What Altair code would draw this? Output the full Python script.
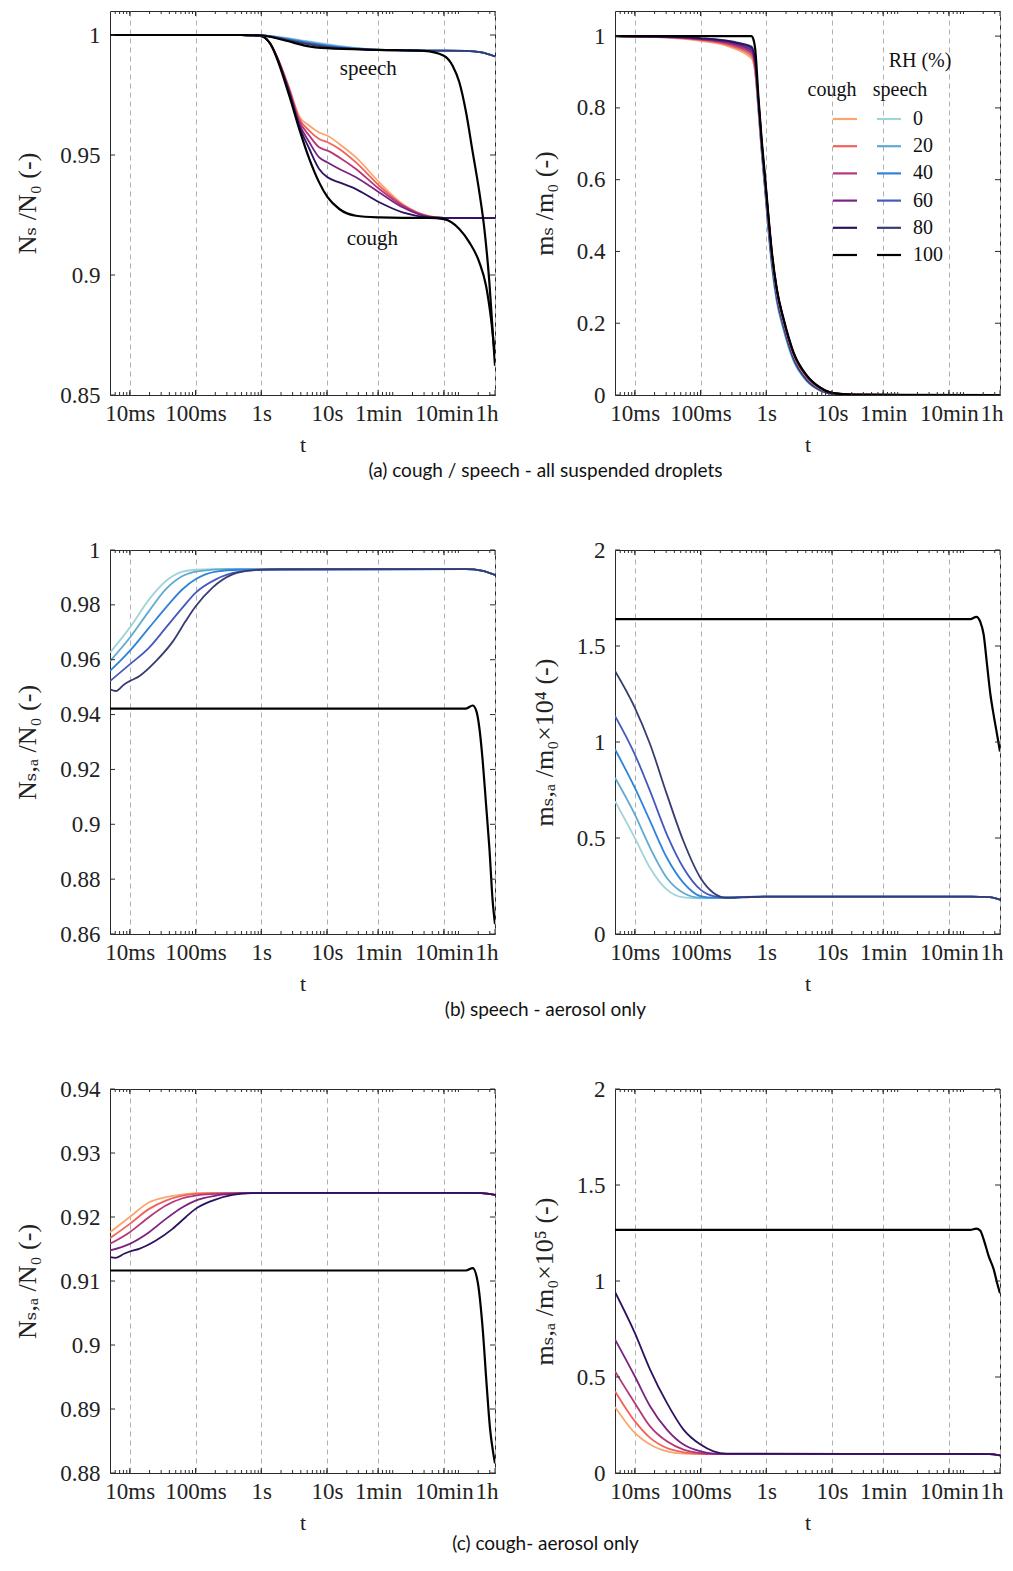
import altair as alt
import pandas as pd

# ---------------- styling constants ----------------
W, H = 385, 384
SERIF = "Liberation Serif, DejaVu Serif, serif"
SANS = "Lato, Roboto, Liberation Sans, sans-serif"
TICK_COLOR = "#2b2b2b"

# ---------------- categories / colours ----------------
RH = ["0", "20", "40", "60", "80", "100"]
COUGH_COLORS = ["#fba66f", "#f2625b", "#b5377a", "#7a2382", "#2c1260", "#000000"]
SPEECH_COLORS = ["#a2d3d8", "#5eaad2", "#2f83d8", "#4659bd", "#373d70", "#000000"]

T_MIN, T_MAX = 0.005, 3600
MAJOR_T = [0.01, 0.1, 1, 10, 60, 600, 3600]
MAJOR_LABELS = ["10ms", "100ms", "1s", "10s", "1min", "10min", "1h"]
MINOR_T = [m * d for d in [0.001, 0.01, 0.1, 1, 10, 100, 1000] for m in range(1, 10)
           if T_MIN < m * d < T_MAX]

CAPTIONS = ["(a) cough / speech - all suspended droplets",
            "(b)  speech - aerosol only",
            "(c)  cough- aerosol only"]

# ---------------- (a) left : N_s / N_0 ----------------
A_N_T_COUGH = [0.005, 0.5, 1.0, 1.32, 2.67, 3.79, 5.4, 7.6, 10.2, 15.4, 27.6, 62.5, 141, 361, 600, 3600]
A_N_COUGH = {
    "0":  [1.0, 1.0, 0.9995, 0.997, 0.978, 0.9661, 0.9622, 0.9594, 0.958, 0.9546, 0.949, 0.9386, 0.9296, 0.9245, 0.9238, 0.9237],
    "20": [1.0, 1.0, 0.9995, 0.997, 0.9775, 0.9652, 0.9601, 0.9567, 0.9553, 0.9525, 0.9469, 0.9372, 0.9293, 0.9244, 0.9238, 0.9237],
    "40": [1.0, 1.0, 0.9995, 0.997, 0.977, 0.9642, 0.958, 0.9532, 0.9518, 0.949, 0.9442, 0.9358, 0.9289, 0.9243, 0.9238, 0.9237],
    "60": [1.0, 1.0, 0.9995, 0.997, 0.9765, 0.963, 0.9553, 0.949, 0.9469, 0.9442, 0.9407, 0.9344, 0.9282, 0.9242, 0.9238, 0.9237],
    "80": [1.0, 1.0, 0.9995, 0.997, 0.976, 0.962, 0.9525, 0.9442, 0.9407, 0.9386, 0.9358, 0.9303, 0.9261, 0.924, 0.9238, 0.9237],
}
A_N_T_COUGH100 = [0.005, 0.5, 1.0, 1.32, 2.67, 3.79, 5.4, 7.6, 10.2, 15.4, 27.6, 62.5, 141, 361, 600,
                  1032, 1466, 2080, 2630, 3133, 3600]
A_N_COUGH100 = [1.0, 1.0, 0.9995, 0.997, 0.9747, 0.9608, 0.9483, 0.9386, 0.9324, 0.9275, 0.9247, 0.924,
                0.9238, 0.9238, 0.9233, 0.9192, 0.9136, 0.9053, 0.8955, 0.8817, 0.866]
A_N_T_SPEECH = [0.005, 0.5, 1.0, 2.4, 4.8, 10, 30, 60, 300, 1300, 2250, 3600]
A_N_SPEECH = {
    "0":  [1.0, 1.0, 0.9998, 0.9988, 0.9975, 0.9962, 0.9945, 0.9939, 0.9935, 0.9934, 0.9928, 0.9911],
    "20": [1.0, 1.0, 0.9998, 0.9986, 0.9972, 0.9959, 0.9944, 0.9939, 0.9935, 0.9934, 0.9928, 0.9911],
    "40": [1.0, 1.0, 0.9998, 0.9984, 0.9969, 0.9956, 0.9943, 0.9938, 0.9935, 0.9934, 0.9928, 0.9911],
    "60": [1.0, 1.0, 0.9998, 0.9982, 0.9966, 0.9953, 0.9942, 0.9938, 0.9935, 0.9934, 0.9928, 0.9911],
    "80": [1.0, 1.0, 0.9998, 0.998, 0.9963, 0.995, 0.9941, 0.9937, 0.9935, 0.9934, 0.9928, 0.9911],
}
A_N_T_SPEECH100 = [0.005, 0.5, 1.0, 2.4, 4.8, 10, 60, 300, 600, 815, 1032, 1306, 1650, 2080, 2480, 2954, 3300, 3600]
A_N_SPEECH100 = [1.0, 1.0, 0.9998, 0.9976, 0.9955, 0.9945, 0.9938, 0.9934, 0.9914, 0.9872, 0.9803, 0.9678,
                 0.9511, 0.9345, 0.9192, 0.897, 0.8775, 0.8622]
A_ANN_LABELS = ["speech", "cough"]
A_ANN_T = [42.5, 49]
A_ANN_V = [0.986, 0.915]

# ---------------- (a) right : m_s / m_0 ----------------
A_M_T = [0.005, 0.03, 0.1, 0.3, 0.6, 0.68, 0.764, 0.859, 0.966, 1.08, 1.22, 1.45, 1.84, 2.6, 4.16, 6.6, 10.6, 21, 3600]
A_M_COUGH = {
    "0":  [1.0, 0.996, 0.987, 0.968, 0.937, 0.90, 0.80, 0.685, 0.585, 0.485, 0.385, 0.285, 0.203, 0.112, 0.049, 0.018, 0.004, 0.001, 0.0],
    "20": [1.0, 0.997, 0.989, 0.972, 0.945, 0.905, 0.805, 0.69, 0.59, 0.49, 0.39, 0.29, 0.206, 0.114, 0.05, 0.019, 0.004, 0.001, 0.0],
    "40": [1.0, 0.997, 0.991, 0.976, 0.953, 0.915, 0.81, 0.695, 0.593, 0.492, 0.392, 0.291, 0.207, 0.115, 0.051, 0.019, 0.004, 0.001, 0.0],
    "60": [1.0, 0.998, 0.992, 0.980, 0.960, 0.92, 0.815, 0.698, 0.596, 0.495, 0.394, 0.293, 0.209, 0.116, 0.052, 0.02, 0.005, 0.001, 0.0],
    "80": [1.0, 0.998, 0.994, 0.984, 0.968, 0.93, 0.82, 0.70, 0.598, 0.497, 0.395, 0.294, 0.21, 0.117, 0.053, 0.02, 0.005, 0.001, 0.0],
}
A_M_SPEECH = {
    "0":  [1.0, 0.996, 0.988, 0.970, 0.941, 0.895, 0.785, 0.665, 0.56, 0.455, 0.355, 0.258, 0.18, 0.095, 0.038, 0.012, 0.003, 0.0005, 0.0],
    "20": [1.0, 0.997, 0.990, 0.974, 0.949, 0.90, 0.79, 0.67, 0.565, 0.46, 0.36, 0.262, 0.183, 0.097, 0.039, 0.013, 0.003, 0.0005, 0.0],
    "40": [1.0, 0.997, 0.991, 0.978, 0.956, 0.91, 0.795, 0.675, 0.57, 0.465, 0.365, 0.266, 0.186, 0.099, 0.04, 0.013, 0.003, 0.0005, 0.0],
    "60": [1.0, 0.998, 0.993, 0.981, 0.963, 0.915, 0.80, 0.68, 0.575, 0.47, 0.37, 0.27, 0.19, 0.101, 0.041, 0.014, 0.003, 0.0005, 0.0],
    "80": [1.0, 0.998, 0.994, 0.985, 0.971, 0.925, 0.81, 0.685, 0.58, 0.475, 0.375, 0.274, 0.193, 0.103, 0.042, 0.014, 0.003, 0.0005, 0.0],
}
A_M_T100 = [0.005, 0.03, 0.1, 0.3, 0.6, 0.627, 0.68, 0.764, 0.859, 0.966, 1.08, 1.22, 1.45, 1.84, 2.6, 4.16, 6.6, 10.6, 21, 3600]
A_M_100 = [1.0, 1.0, 1.0, 1.0, 1.0, 0.995, 0.963, 0.824, 0.703, 0.601, 0.499, 0.397, 0.295, 0.2115, 0.119, 0.054, 0.021, 0.005, 0.001, 0.0]

# ---------------- (b) left : speech N_s,a / N_0 ----------------
B_N_SPEECH = {
    "0":  ([0.005, 0.01, 0.0197, 0.0354, 0.0634, 0.1, 0.2, 1300, 2250, 3600],
           [0.9626, 0.9717, 0.982, 0.9887, 0.9921, 0.9928, 0.993, 0.993, 0.9925, 0.9909]),
    "20": ([0.005, 0.01, 0.0197, 0.0354, 0.0634, 0.114, 0.3, 1300, 2250, 3600],
           [0.9595, 0.968, 0.9778, 0.9857, 0.9905, 0.9923, 0.993, 0.993, 0.9925, 0.9909]),
    "40": ([0.005, 0.01, 0.0197, 0.0354, 0.0634, 0.1, 0.204, 0.462, 1300, 2250, 3600],
           [0.9559, 0.9632, 0.9717, 0.979, 0.9857, 0.9893, 0.9921, 0.9928, 0.993, 0.9925, 0.9909]),
    "60": ([0.005, 0.01, 0.0197, 0.0354, 0.0634, 0.1, 0.204, 0.462, 1.0, 1300, 2250, 3600],
           [0.9522, 0.9583, 0.9644, 0.9717, 0.979, 0.9844, 0.9893, 0.9921, 0.9928, 0.993, 0.9925, 0.9909]),
    "80": ([0.005, 0.00614, 0.0082, 0.01, 0.0139, 0.025, 0.0447, 0.0713, 0.1, 0.1816, 0.366, 0.738, 2.1, 1300, 2250, 3600],
           [0.9492, 0.9486, 0.951, 0.9522, 0.954, 0.9595, 0.9665, 0.9742, 0.9794, 0.9863, 0.9911, 0.9926, 0.993, 0.993, 0.9925, 0.9909]),
    "100": ([0.005, 1300, 1650, 1860, 2080, 2340, 2630, 2954, 3318, 3600],
            [0.9422, 0.9422, 0.9433, 0.9415, 0.9352, 0.9231, 0.9073, 0.8915, 0.872, 0.8636]),
}

# ---------------- (b) right : speech m_s,a / m_0 x 1e4 ----------------
B_M_T = [0.005, 0.01, 0.0171, 0.0308, 0.0551, 0.1, 0.158, 0.252, 0.452, 1.0, 1300, 2500, 3600]
B_M_SPEECH = {
    "0":  [0.692, 0.501, 0.344, 0.231, 0.191, 0.186, 0.188, 0.19, 0.192, 0.195, 0.195, 0.192, 0.179],
    "20": [0.814, 0.623, 0.449, 0.292, 0.214, 0.189, 0.188, 0.19, 0.192, 0.195, 0.195, 0.192, 0.179],
    "40": [0.962, 0.762, 0.588, 0.397, 0.266, 0.197, 0.189, 0.19, 0.193, 0.195, 0.195, 0.192, 0.179],
    "60": [1.136, 0.936, 0.744, 0.518, 0.344, 0.231, 0.197, 0.189, 0.193, 0.195, 0.195, 0.192, 0.179],
    "80": [1.37, 1.179, 0.988, 0.727, 0.483, 0.292, 0.214, 0.188, 0.191, 0.195, 0.195, 0.192, 0.179],
}
B_M_T100 = [0.005, 1274, 1571, 1808, 2030, 2290, 2567, 2884, 3245, 3600]
B_M_100 = [1.64, 1.64, 1.652, 1.625, 1.56, 1.40, 1.25, 1.14, 1.04, 0.95]

# ---------------- (c) left : cough N_s,a / N_0 ----------------
C_N_COUGH = {
    "0":  ([0.005, 0.01, 0.0197, 0.0354, 0.0634, 0.1, 0.2, 1300, 2250, 3600],
           [0.91763, 0.92, 0.92231, 0.9231, 0.92351, 0.92371, 0.92377, 0.92377, 0.92372, 0.92345]),
    "20": ([0.005, 0.01, 0.0197, 0.0354, 0.0634, 0.1, 0.204, 1300, 2250, 3600],
           [0.91669, 0.91893, 0.92127, 0.92257, 0.92335, 0.9236, 0.92372, 0.92377, 0.92372, 0.92345]),
    "40": ([0.005, 0.01, 0.0197, 0.0354, 0.0634, 0.1, 0.204, 0.462, 1300, 2250, 3600],
           [0.91581, 0.91763, 0.92, 0.92179, 0.92293, 0.92335, 0.9236, 0.92372, 0.92377, 0.92372, 0.92345]),
    "60": ([0.005, 0.01, 0.0197, 0.0354, 0.0634, 0.1, 0.204, 0.462, 1.0, 1300, 2250, 3600],
           [0.91477, 0.91581, 0.91763, 0.91971, 0.92153, 0.92257, 0.92335, 0.92367, 0.92377, 0.92377, 0.92372, 0.92345]),
    "80": ([0.005, 0.00614, 0.0082, 0.01, 0.0139, 0.025, 0.0447, 0.0713, 0.1, 0.1816, 0.366, 0.738, 2.1, 1300, 2250, 3600],
           [0.91373, 0.91362, 0.91425, 0.91461, 0.91503, 0.91633, 0.91815, 0.92, 0.92127, 0.92257, 0.92345, 0.92372, 0.92377, 0.92377, 0.92372, 0.92345]),
    "100": ([0.005, 1300, 1650, 1967, 2340, 2690, 3027, 3400, 3600],
            [0.91164, 0.91164, 0.9120, 0.9098, 0.9025, 0.8937, 0.8869, 0.8830, 0.8815]),
}

# ---------------- (c) right : cough m_s,a / m_0 x 1e5 ----------------
C_M_T = [0.005, 0.01, 0.0171, 0.0308, 0.0551, 0.1, 0.158, 0.252, 1300, 2500, 3600]
C_M_COUGH = {
    "0":  [0.344, 0.209, 0.148, 0.113, 0.101, 0.099, 0.099, 0.099, 0.099, 0.098, 0.092],
    "20": [0.426, 0.27, 0.183, 0.13, 0.108, 0.1, 0.099, 0.099, 0.099, 0.098, 0.092],
    "40": [0.53, 0.365, 0.243, 0.165, 0.122, 0.104, 0.1, 0.099, 0.099, 0.098, 0.092],
    "60": [0.696, 0.504, 0.348, 0.226, 0.148, 0.113, 0.101, 0.099, 0.099, 0.098, 0.092],
    "80": [0.943, 0.73, 0.539, 0.365, 0.226, 0.148, 0.113, 0.101, 0.099, 0.098, 0.092],
}
C_M_T100 = [0.005, 1274, 1571, 1808, 2030, 2420, 2884, 3245, 3600]
C_M_100 = [1.266, 1.266, 1.273, 1.262, 1.217, 1.13, 1.061, 0.991, 0.936]


# ---------------- helpers ----------------
def series_rows(name, times, values, color, width):
    return [{"series": name, "t": t, "v": v, "col": color, "w": width} for t, v in zip(times, values)]


def width_of(rh):
    return 2.2 if rh == "100" else 1.8


LABEL_EXPR = " : ".join(f"datum.value == {v} ? '{l}'" for v, l in zip(MAJOR_T[:-1], MAJOR_LABELS[:-1])) \
    + f" : '{MAJOR_LABELS[-1]}'"


def panel(rows, ydom, yticks, ytitle, caption=None, cap_offset=6, extra=None, overlay=None):
    df = pd.DataFrame(rows)
    xs = alt.Scale(type="log", domain=[T_MIN, T_MAX], nice=False)
    ys = alt.Scale(domain=ydom, nice=False, zero=False)
    xaxis = alt.Axis(values=MAJOR_T, labelExpr=LABEL_EXPR, title="t", grid=True, gridDash=[5, 4],
                     gridColor="#b0b0b0", gridWidth=1, ticks=False, domain=False, labelFlush=True,
                     labelFlushOffset=3, labelOverlap=False, labelPadding=7, titlePadding=9,
                     titleFontSize=22)
    yaxis = alt.Axis(values=yticks, format="~g", title=ytitle, grid=False, ticks=False, domain=False,
                     labelPadding=10, titlePadding=19, labelOverlap=False)
    X = alt.X("t:Q", scale=xs, axis=xaxis)
    Y = alt.Y("v:Q", scale=ys, axis=yaxis)
    lines = alt.Chart(df).mark_line(interpolate="monotone", clip=True).encode(
        x=X, y=Y,
        color=alt.Color("col:N", scale=None),
        strokeWidth=alt.StrokeWidth("w:Q", scale=None),
        detail="series:N",
    )
    xmaj = pd.DataFrame({"t": MAJOR_T})
    xmin = pd.DataFrame({"t": MINOR_T})
    ydf = pd.DataFrame({"v": yticks})

    def xt(d, y0, y1):
        return alt.Chart(d).mark_rule(color=TICK_COLOR, strokeWidth=1).encode(
            x=X, y=alt.value(y0), y2=alt.value(y1))

    def yt(x0, x1):
        return alt.Chart(ydf).mark_rule(color=TICK_COLOR, strokeWidth=1).encode(
            y=Y, x=alt.value(x0), x2=alt.value(x1))

    layers = [lines, xt(xmaj, H, H - 5), xt(xmaj, 0, 5), xt(xmin, H, H - 3), xt(xmin, 0, 3),
              yt(0, 5), yt(W, W - 5)]
    if extra is not None:
        layers += extra(X, Y)
    ch = alt.layer(*layers)
    if overlay is not None:
        ch = alt.layer(ch, *overlay).resolve_scale(y="independent")
    props = dict(width=W, height=H)
    if caption:
        props["title"] = alt.TitleParams(text=caption, orient="bottom", anchor="middle", frame="group",
                                         dx=243, offset=cap_offset, font=SANS, fontSize=19,
                                         fontWeight="normal", color="#111111")
    return ch.properties(**props)


# ---------------- build panels ----------------
rows_a_n = []
for i, rh in enumerate(RH[:-1]):
    rows_a_n += series_rows("c" + rh, A_N_T_COUGH, A_N_COUGH[rh], COUGH_COLORS[i], width_of(rh))
rows_a_n += series_rows("c100", A_N_T_COUGH100, A_N_COUGH100, COUGH_COLORS[5], 2.2)
for i, rh in enumerate(RH[:-1]):
    rows_a_n += series_rows("s" + rh, A_N_T_SPEECH, A_N_SPEECH[rh], SPEECH_COLORS[i], width_of(rh))
rows_a_n += series_rows("s100", A_N_T_SPEECH100, A_N_SPEECH100, SPEECH_COLORS[5], 2.2)


def ann_layer(X, Y):
    d = pd.DataFrame({"label": A_ANN_LABELS, "t": A_ANN_T, "v": A_ANN_V})
    return [alt.Chart(d).mark_text(font=SERIF, fontSize=21, color="#111111").encode(
        x=X, y=Y, text="label:N")]


pA1 = panel(rows_a_n, [0.85, 1.01], [0.85, 0.9, 0.95, 1], "Nₛ /N₀ (-)", caption=CAPTIONS[0],
            cap_offset=7, extra=ann_layer)

rows_a_m = []
for i, rh in enumerate(RH[:-1]):
    rows_a_m += series_rows("s" + rh, A_M_T, A_M_SPEECH[rh], SPEECH_COLORS[i], 1.8)
for i, rh in enumerate(RH[:-1]):
    rows_a_m += series_rows("c" + rh, A_M_T, A_M_COUGH[rh], COUGH_COLORS[i], 1.8)
rows_a_m += series_rows("c100", A_M_T100, A_M_100, "#000000", 2.2)

leg = pd.DataFrame({"rh": RH, "cc": COUGH_COLORS, "sc": SPEECH_COLORS})
leg_y = alt.Y("rh:N", sort=RH, scale=alt.Scale(type="point", range=[108, 244], padding=0), axis=None)
one = pd.DataFrame({"k": [0]})
legend = [
    alt.layer(
        alt.Chart(leg).mark_rule(strokeWidth=2.2).encode(
            x=alt.value(218), x2=alt.value(242), y=leg_y, color=alt.Color("cc:N", scale=None)),
        alt.Chart(leg).mark_rule(strokeWidth=2.2).encode(
            x=alt.value(262), x2=alt.value(286), y=leg_y, color=alt.Color("sc:N", scale=None)),
        alt.Chart(leg).mark_text(align="left", baseline="middle", font=SERIF, fontSize=20, color="#111111").encode(
            x=alt.value(298), y=leg_y, text="rh:N"),
        alt.Chart(one).mark_text(text="cough", font=SERIF, fontSize=20, color="#111111", baseline="middle").encode(
            x=alt.value(217), y=alt.value(79)),
        alt.Chart(one).mark_text(text="speech", font=SERIF, fontSize=20, color="#111111", baseline="middle").encode(
            x=alt.value(285), y=alt.value(79)),
        alt.Chart(one).mark_text(text="RH (%)", font=SERIF, fontSize=20, color="#111111", baseline="middle").encode(
            x=alt.value(305), y=alt.value(50)),
    )
]
pA2 = panel(rows_a_m, [0, 1.07], [0, 0.2, 0.4, 0.6, 0.8, 1], "mₛ /m₀ (-)", overlay=legend)

rows_b_n = []
for i, rh in enumerate(RH):
    t, v = B_N_SPEECH[rh]
    rows_b_n += series_rows("s" + rh, t, v, SPEECH_COLORS[i], width_of(rh))
pB1 = panel(rows_b_n, [0.86, 1.0], [0.86, 0.88, 0.9, 0.92, 0.94, 0.96, 0.98, 1.0], "Nₛ,ₐ /N₀ (-)",
            caption=CAPTIONS[1], cap_offset=7)

rows_b_m = []
for i, rh in enumerate(RH[:-1]):
    rows_b_m += series_rows("s" + rh, B_M_T, B_M_SPEECH[rh], SPEECH_COLORS[i], 1.8)
rows_b_m += series_rows("s100", B_M_T100, B_M_100, "#000000", 2.2)
pB2 = panel(rows_b_m, [0, 2], [0, 0.5, 1, 1.5, 2], "mₛ,ₐ /m₀×10⁴   (-)")

rows_c_n = []
for i, rh in enumerate(RH):
    t, v = C_N_COUGH[rh]
    rows_c_n += series_rows("c" + rh, t, v, COUGH_COLORS[i], width_of(rh))
pC1 = panel(rows_c_n, [0.88, 0.94], [0.88, 0.89, 0.9, 0.91, 0.92, 0.93, 0.94], "Nₛ,ₐ /N₀ (-)",
            caption=CAPTIONS[2], cap_offset=2)

rows_c_m = []
for i, rh in enumerate(RH[:-1]):
    rows_c_m += series_rows("c" + rh, C_M_T, C_M_COUGH[rh], COUGH_COLORS[i], 1.8)
rows_c_m += series_rows("c100", C_M_T100, C_M_100, "#000000", 2.2)
pC2 = panel(rows_c_m, [0, 2], [0, 0.5, 1, 1.5, 2], "mₛ,ₐ /m₀×10⁵   (-)")

chart = alt.concat(pA1, pA2, pB1, pB2, pC1, pC2, columns=2).properties(
    spacing={"row": 155, "column": 120}, bounds="flush",
    padding={"left": 6, "top": 2, "right": 0, "bottom": 0}
).configure_view(
    stroke="#2b2b2b", strokeWidth=1
).configure_axis(
    labelFont=SERIF, titleFont=SERIF, labelFontSize=23, titleFontSize=26,
    labelColor="#222222", titleColor="#222222", titleFontWeight="normal"
)

chart.save("out.html", embed_options={"renderer": "svg", "actions": False})
